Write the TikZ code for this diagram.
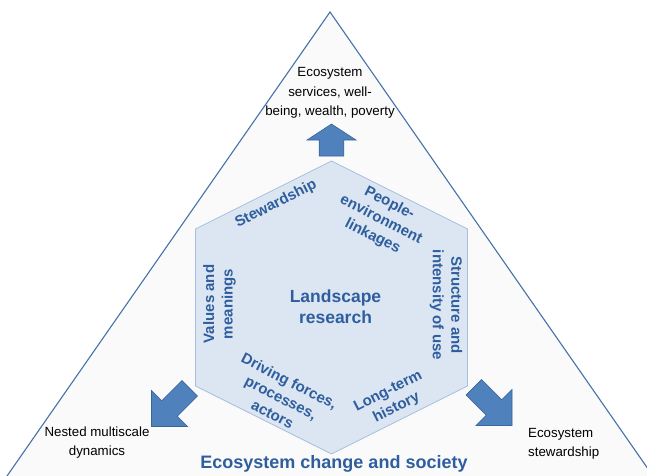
\documentclass[tikz,border=0pt]{standalone}
\usepackage{fontspec}
\setmainfont{Liberation Sans}
\definecolor{tri}{HTML}{4672AA}
\definecolor{trifill}{HTML}{FAFAFA}
\definecolor{hexfill}{HTML}{DCE6F2}
\definecolor{hexline}{HTML}{A7BFDE}
\definecolor{arrfill}{HTML}{4F81BD}
\definecolor{arrline}{HTML}{3B6497}
\definecolor{lbl}{HTML}{2F5E9E}
\tikzset{
  blockarrow/.style={fill=arrfill,draw=arrline,line width=0.6pt,line join=miter},
  plaintext/.style={inner sep=0pt,align=center,text=black,font=\fontsize{13.3}{19.3}\selectfont},
  sidelabel/.style={inner sep=0pt,align=center,text=lbl,font=\bfseries\fontsize{15}{18.5}\selectfont},
  biglabel/.style={inner sep=0pt,align=center,text=lbl,font=\bfseries\fontsize{17.5}{21}\selectfont},
}
\begin{document}
\begin{tikzpicture}[x=1pt,y=1pt]
\useasboundingbox (0,0) rectangle (647,475);
\clip (0,0) rectangle (647,475);
\fill[white] (0,0) rectangle (647,475);
% triangle
\coordinate (apex) at (330,463);
\coordinate (bl) at (-6.2,-20);
\coordinate (br) at (666.2,-20);
\draw[tri,fill=trifill,line width=1.1pt,line join=miter] (apex) -- (br) -- (bl) -- cycle;
% hexagon
\coordinate (h1) at (331.5,314);
\coordinate (h2) at (467.5,246);
\coordinate (h3) at (467.5,89);
\coordinate (h4) at (331.5,21);
\coordinate (h5) at (195.5,89);
\coordinate (h6) at (195.5,246);
\draw[hexline,fill=hexfill,line width=0.7pt] (h1) -- (h2) -- (h3) -- (h4) -- (h5) -- (h6) -- cycle;
% up arrow
\draw[blockarrow] (331.5,351) -- (356,335) -- (343.8,335) -- (343.8,319) -- (319.2,319) -- (319.2,335) -- (307,335) -- cycle;
% diagonal arrows
\begin{scope}[shift={(151.5,48.5)},rotate=225]
\draw[blockarrow] (0,0) -- (-25.5,25.5) -- (-25.5,11) -- (-54,11) -- (-54,-11) -- (-25.5,-11) -- (-25.5,-25.5) -- cycle;
\end{scope}
\begin{scope}[shift={(512,49.5)},rotate=-45]
\draw[blockarrow] (0,0) -- (-25.5,25.5) -- (-25.5,11) -- (-54,11) -- (-54,-11) -- (-25.5,-11) -- (-25.5,-25.5) -- cycle;
\end{scope}
% corner texts
\node[plaintext] (top) at (330,382) {Ecosystem\\services, well-\\being, wealth, poverty};
\node[plaintext] (nested) at (97,32.5) {Nested multiscale\\dynamics};
\node[plaintext,align=left,anchor=west] (stew) at (528,31.5) {Ecosystem\\stewardship};
\node[biglabel,font=\bfseries\fontsize{18}{21}\selectfont] (title) at (334,11) {Ecosystem change and society};
% hexagon texts
\node[biglabel] (land) at (335.5,168.5) {Landscape\\research};
\node[sidelabel,rotate=27] (s1) at (276,271) {Stewardship};
\node[sidelabel,rotate=-27] (s2) at (381,255) {People-\\environment\\linkages};
\node[sidelabel,rotate=90] (s3) at (219.5,171) {Values and\\meanings};
\node[sidelabel,rotate=-90] (s4) at (446,170) {Structure and\\intensity of use};
\node[sidelabel,rotate=-27] (s5) at (281,77.5) {Driving forces,\\processes,\\actors};
\node[sidelabel,rotate=27] (s6) at (392.5,75) {Long-term\\history};
\end{tikzpicture}
\end{document}
